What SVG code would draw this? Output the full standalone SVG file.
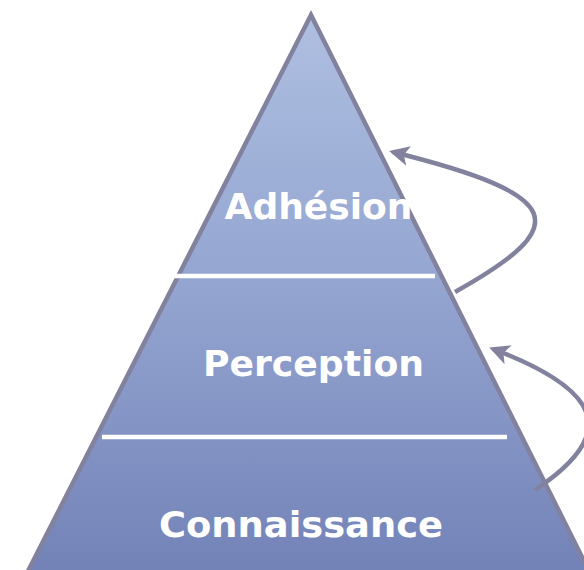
<svg xmlns="http://www.w3.org/2000/svg" width="584" height="570" viewBox="0 0 584 570">
  <defs>
    <linearGradient id="fillGrad" x1="0" y1="14" x2="0" y2="570" gradientUnits="userSpaceOnUse">
      <stop offset="0" stop-color="#aebfe1"/>
      <stop offset="0.5" stop-color="#93a4d0"/>
      <stop offset="1" stop-color="#7383b8"/>
    </linearGradient>
    <marker id="arrow" viewBox="0 0 10 10" refX="8" refY="5" markerWidth="4.5" markerHeight="4.5" orient="auto" markerUnits="strokeWidth">
      <path d="M0,0 L10,5 L0,10 L2.5,5 Z" fill="#82829e"/>
    </marker>
    <style>
      .lbl { font-family: "DejaVu Sans", Verdana, sans-serif; font-weight: bold; font-size: 36px; fill: #ffffff; text-anchor: middle; }
      .sep { stroke: #ffffff; stroke-width: 4.5; }
      .conn { fill: none; stroke: #82829e; stroke-width: 4.5; marker-end: url(#arrow); }
    </style>
  </defs>
  <g id="pyramid">
    <polygon points="311,15 26,575 591,575" fill="url(#fillGrad)" stroke="#82829e" stroke-width="4.5" stroke-linejoin="miter"/>
    <line class="sep" x1="173" y1="276" x2="435" y2="276"/>
    <line class="sep" x1="102" y1="437" x2="507" y2="437"/>
  </g>
  <g id="connectors">
    <path class="conn" d="M455,292 C575,225 565,195 393,152"/>
    <path class="conn" d="M535,490 C610,440 615,395 493,349"/>
  </g>
  <g id="node-adhesion">
    <text class="lbl" x="318.5" y="219" textLength="188" lengthAdjust="spacingAndGlyphs">Adhésion</text>
  </g>
  <g id="node-perception">
    <text class="lbl" x="313.5" y="376" textLength="221" lengthAdjust="spacingAndGlyphs">Perception</text>
  </g>
  <g id="node-connaissance">
    <text class="lbl" x="301" y="537" textLength="284" lengthAdjust="spacingAndGlyphs">Connaissance</text>
  </g>
</svg>
